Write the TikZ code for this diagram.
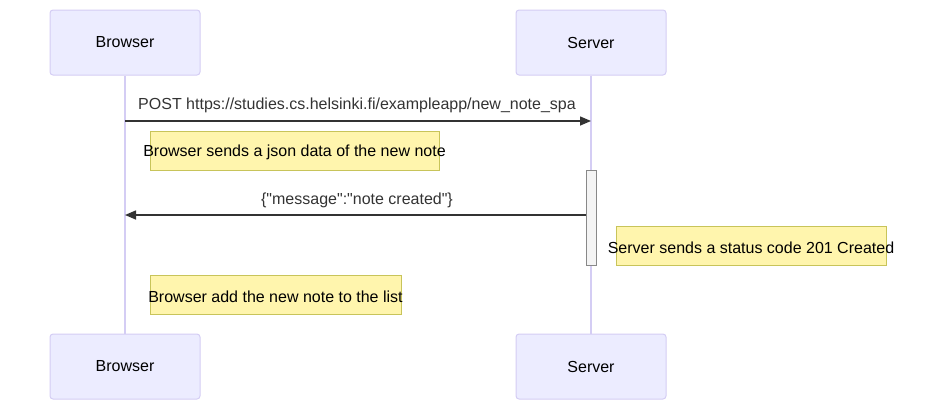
\documentclass[tikz,border=0pt]{standalone}
\usepackage{fontspec}
\setmainfont{Liberation Sans}
\usetikzlibrary{arrows.meta,positioning}
\definecolor{actorfill}{HTML}{ECECFF}
\definecolor{actorline}{HTML}{D4CDF4}
\definecolor{notefill}{HTML}{FFF5AD}
\definecolor{noteline}{HTML}{C8C45A}
\definecolor{msgline}{HTML}{333333}
\definecolor{actfill}{HTML}{F4F4F4}
\definecolor{actline}{HTML}{888888}
\tikzset{%
actor/.style={draw=actorline,fill=actorfill,rounded corners=3pt,line width=1pt,
  minimum width=150pt,minimum height=65pt,inner sep=0pt,font=\fontsize{16}{19}\selectfont},
lifeline/.style={draw=actorline,line width=2pt},
activation/.style={draw=actline,fill=actfill,line width=1pt,minimum width=10pt,minimum height=95pt,inner sep=0pt},
msg/.style={draw=msgline,line width=1.5pt,-{Triangle[length=11pt,width=9pt]}},
msgtext/.style={text=msgline,inner sep=0pt,font=\fontsize{16}{19}\selectfont},
note/.style={draw=noteline,fill=notefill,line width=1pt,minimum height=39pt,inner sep=0pt},
notetext/.style={inner sep=0pt,yshift=-2pt,font=\fontsize{16}{19}\selectfont}
}
\begin{document}
\begin{tikzpicture}[x=1pt,y=-1pt]
\useasboundingbox (0,0) rectangle (936,410);
% participants
\node[actor] (browser) at (125,42.5) {\raisebox{-2pt}{Browser}};
\node[actor] (server) at (591,42.5) {\raisebox{-2pt}{Server}};
\node[actor] (browserEnd) at (125,366.5) {\raisebox{-2pt}{Browser}};
\node[actor] (serverEnd) at (591,366.5) {\raisebox{-2pt}{Server}};
\draw[lifeline] (browser.south) -- (browserEnd.north);
\draw[lifeline] (server.south) -- (serverEnd.north);
\node[activation] (serverAct) at (591,217.5) {};
% request
\coordinate (postFrom) at (125,121);
\coordinate (postTo) at (591,121);
\draw[msg] (postFrom) -- (postTo);
\node[msgtext] (postText) at (357,105) {POST https://studies.cs.helsinki.fi/exampleapp/new\_note\_spa};
\node[note,minimum width=289pt] (jsonNote) at (294.5,150.5) {};
\node[notetext] (jsonText) at (jsonNote.center) {Browser sends a json data of the new note};
% response
\coordinate (replyFrom) at (serverAct.west |- 0,215);
\coordinate (replyTo) at (125,215);
\draw[msg] (replyFrom) -- (replyTo);
\node[msgtext] (replyText) at (357,200) {\{\textquotedbl message\textquotedbl:\textquotedbl note created\textquotedbl\}};
\node[note,minimum width=270pt] (statusNote) at (751,245.5) {};
\node[notetext] (statusText) at (statusNote.center) {Server sends a status code 201 Created};
\node[note,minimum width=251pt] (listNote) at (275.5,294.5) {};
\node[notetext] (listText) at (listNote.center) {Browser add the new note to the list};
\end{tikzpicture}
\end{document}
